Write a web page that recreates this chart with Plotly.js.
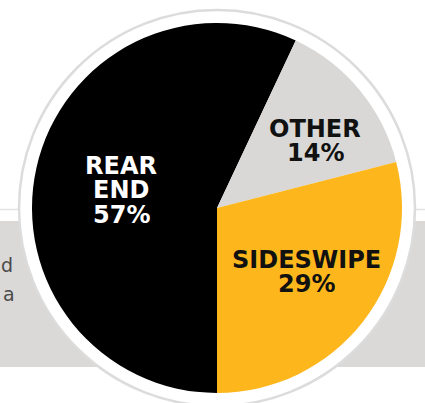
<!DOCTYPE html>
<html>
<head>
<meta charset="utf-8">
<script src="https://cdn.plot.ly/plotly-3.0.1.min.js"></script>
<style>
  html, body { margin: 0; padding: 0; background: #ffffff; }
  #chart { width: 425px; height: 403px; }
</style>
</head>
<body>
<div id="chart"></div>
<script>
const categories = ["REAR END", "OTHER", "SIDESWIPE"];
const labelLines = [["REAR", "END"], ["OTHER"], ["SIDESWIPE"]];
const percents = [57, 14, 29];
const colors = ["#000000", "#d9d8d6", "#fdb71c"];
const textColors = ["#ffffff", "#111111", "#111111"];

const W = 425, H = 403;
const cx = 217, cy = 208, r = 185, ringR = 198;
const px = x => x / W;
const py = y => (H - y) / H;

// label block: centre x and first-line y (pixels), line step
const labelPos = [[121, 166], [315, 129], [306, 260]];
const lineStep = 24.3;

const annotations = [];
categories.forEach((c, i) => {
  const lines = labelLines[i].concat([percents[i] + "%"]);
  lines.forEach((t, k) => {
    annotations.push({
      xref: "paper", yref: "paper",
      x: px(labelPos[i][0]), y: py(labelPos[i][1] + k * lineStep),
      xanchor: "center", yanchor: "middle",
      text: t, showarrow: false,
      height: 20, borderpad: 0, valign: "middle",
      font: { family: "DejaVu Sans", size: 24, color: textColors[i], weight: 700 }
    });
  });
});

annotations.push(
  { xref: "paper", yref: "paper", x: 0, y: py(265), xanchor: "left", yanchor: "middle",
    text: "d", showarrow: false, borderpad: 0, font: { family: "DejaVu Sans", size: 19, color: "#4a4a4a" } },
  { xref: "paper", yref: "paper", x: px(2), y: py(294), xanchor: "left", yanchor: "middle",
    text: "a", showarrow: false, borderpad: 0, font: { family: "DejaVu Sans", size: 19, color: "#4a4a4a" } }
);

const data = [{
  type: "pie",
  labels: categories,
  values: percents,
  marker: { colors: colors, line: { width: 0 } },
  sort: false,
  direction: "clockwise",
  rotation: 180,
  textinfo: "none",
  hoverinfo: "label+percent",
  showlegend: false,
  domain: { x: [px(cx - r), px(cx + r)], y: [py(cy + r), py(cy - r)] }
}];

const layout = {
  width: W, height: H,
  margin: { l: 0, r: 0, t: 0, b: 0 },
  paper_bgcolor: "#ffffff",
  plot_bgcolor: "#ffffff",
  showlegend: false,
  shapes: [
    { type: "rect", xref: "paper", yref: "paper", layer: "below",
      x0: 0, x1: 1, y0: py(367), y1: py(221),
      fillcolor: "#dad9d8", line: { width: 0 } },
    { type: "line", xref: "paper", yref: "paper", layer: "below",
      x0: 0, x1: 1, y0: py(209.5), y1: py(209.5),
      line: { color: "#e2e2e2", width: 1.5 } },
    { type: "circle", xref: "paper", yref: "paper", layer: "below",
      x0: px(cx - ringR), x1: px(cx + ringR), y0: py(cy + ringR), y1: py(cy - ringR),
      fillcolor: "#ffffff", line: { color: "#dcdcdc", width: 2.5 } }
  ],
  annotations: annotations
};

Plotly.newPlot("chart", data, layout, { displayModeBar: false, staticPlot: true });
</script>
</body>
</html>
